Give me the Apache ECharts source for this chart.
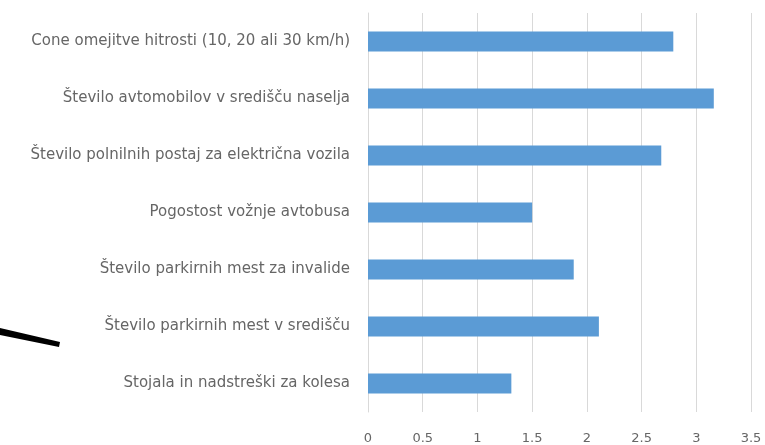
<!DOCTYPE html>
<html>
<head>
<meta charset="utf-8">
<script src="https://cdn.jsdelivr.net/npm/echarts@6/dist/echarts.min.js"></script>
<style>
  html, body { margin: 0; padding: 0; background: #ffffff; }
  #chart { width: 765px; height: 445px; }
</style>
</head>
<body>
<div id="chart"></div>
<script>
// Categories, listed top to bottom
const categories = [
  'Cone omejitve hitrosti (10, 20 ali 30 km/h)',
  'Število avtomobilov v središču naselja',
  'Število polnilnih postaj za električna vozila',
  'Pogostost vožnje avtobusa',
  'Število parkirnih mest za invalide',
  'Število parkirnih mest v središču',
  'Stojala in nadstreški za kolesa'
];

// Average score for each category
const scores = [2.79, 3.16, 2.68, 1.50, 1.88, 2.11, 1.31];

// Value axis range
const axisMin = 0;
const axisMax = 3.5;
const axisStep = 0.5;

const chart = echarts.init(document.getElementById('chart'), null, { renderer: 'canvas' });

chart.setOption({
  animation: false,
  backgroundColor: '#ffffff',
  grid: { left: 368, right: 14, top: 13, bottom: 33, containLabel: false },
  xAxis: {
    type: 'value',
    min: axisMin,
    max: axisMax,
    interval: axisStep,
    axisLine: { show: false },
    axisTick: { show: false },
    splitLine: { show: true, lineStyle: { color: '#d9d9d9', width: 1 } },
    axisLabel: {
      color: '#666666',
      fontFamily: 'DejaVu Sans',
      fontSize: 13,
      margin: 20
    }
  },
  yAxis: {
    type: 'category',
    data: categories,
    inverse: true,
    axisLine: { show: true, lineStyle: { color: '#d9d9d9' } },
    axisTick: { show: false },
    axisLabel: {
      color: '#666666',
      fontFamily: 'DejaVu Sans',
      fontSize: 15,
      margin: 18
    }
  },
  series: [{
    type: 'bar',
    data: scores,
    barWidth: 20,
    itemStyle: { color: '#5b9bd5' }
  }],
  graphic: [{
    type: 'polygon',
    shape: { points: [[0, 328], [60, 342], [59, 347], [0, 335]] },
    style: { fill: '#000000' }
  }]
});
</script>
</body>
</html>
